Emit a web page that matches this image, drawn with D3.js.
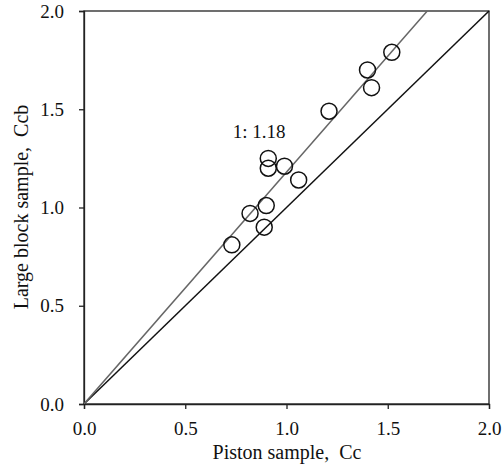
<!DOCTYPE html>
<html>
<head>
<meta charset="utf-8">
<script src="https://cdn.jsdelivr.net/npm/d3@7"></script>
<style>
  body { margin: 0; background: #fff; }
  text { font-family: "Liberation Serif", serif; fill: #111; white-space: pre; }
</style>
</head>
<body>
<div id="chart"></div>
<script>
// Piston vs large block samples
const pistonCc = [0.73, 0.82, 0.90, 0.89, 0.91, 0.91, 0.99, 1.06, 1.21, 1.40, 1.42, 1.52];
const blockCcb = [0.81, 0.97, 1.01, 0.90, 1.20, 1.25, 1.21, 1.14, 1.49, 1.70, 1.61, 1.79];
const tickValues = [0, 0.5, 1.0, 1.5, 2.0];
const slope = 1.18;

const width = 502, height = 470;
const margin = { top: 11, right: 13, bottom: 66, left: 84 };
const innerW = width - margin.left - margin.right;
const innerH = height - margin.top - margin.bottom;

const svg = d3.select('#chart').append('svg')
    .attr('width', width)
    .attr('height', height);

const g = svg.append('g')
    .attr('transform', `translate(${margin.left},${margin.top})`);

const x = d3.scaleLinear().domain([0, 2]).range([0, innerW]);
const y = d3.scaleLinear().domain([0, 2]).range([innerH, 0]);

// frame
g.append('rect')
    .attr('width', innerW)
    .attr('height', innerH)
    .attr('fill', 'none')
    .attr('stroke', '#222')
    .attr('stroke-width', 1.3);

// axes
const xAxis = g.append('g')
    .attr('transform', `translate(0,${innerH})`)
    .call(d3.axisBottom(x).tickValues(tickValues).tickFormat(d3.format('.1f')).tickSizeOuter(0).tickSize(5).tickPadding(13));
const yAxis = g.append('g')
    .call(d3.axisLeft(y).tickValues(tickValues).tickFormat(d3.format('.1f')).tickSizeOuter(0).tickSize(5).tickPadding(15));

[xAxis, yAxis].forEach(a => {
    a.attr('font-family', null);
    a.select('.domain').attr('stroke', '#222').attr('stroke-width', 1.3);
    a.selectAll('.tick line').attr('stroke', '#222').attr('stroke-width', 1.3);
    a.selectAll('.tick text')
        .style('font-family', '"Liberation Serif", serif')
        .style('font-size', '19px')
        .attr('fill', '#111');
});

// clip for lines
g.append('clipPath').attr('id', 'clip')
    .append('rect').attr('width', innerW).attr('height', innerH);

const line = d3.line().x(d => x(d[0])).y(d => y(d[1]));

// 1:1 line
g.append('path')
    .attr('d', line([[0, 0], [2, 2]]))
    .attr('stroke', '#111')
    .attr('stroke-width', 1.5)
    .attr('fill', 'none');

// 1:1.18 line
g.append('path')
    .attr('clip-path', 'url(#clip)')
    .attr('d', line([[0, 0], [2 / slope, 2]]))
    .attr('stroke', '#666')
    .attr('stroke-width', 1.5)
    .attr('fill', 'none');

// points
g.selectAll('.pt')
    .data(pistonCc)
    .enter()
    .append('circle')
    .attr('class', 'pt')
    .attr('cx', d => x(d))
    .attr('cy', (d, i) => y(blockCcb[i]))
    .attr('r', 8)
    .attr('fill', 'none')
    .attr('stroke', '#111')
    .attr('stroke-width', 1.5);

// annotation
g.append('text')
    .attr('x', x(0.735))
    .attr('y', y(1.355))
    .style('font-size', '19px')
    .text('1: 1.18');

// axis titles
svg.append('text')
    .attr('x', 287)
    .attr('y', 459)
    .attr('text-anchor', 'middle')
    .style('font-size', '20px')
    .text('Piston sample,  Cc');

svg.append('text')
    .attr('transform', `translate(28,207) rotate(-90)`)
    .attr('text-anchor', 'middle')
    .style('font-size', '20px')
    .text('Large block sample,  Ccb');
</script>
</body>
</html>
